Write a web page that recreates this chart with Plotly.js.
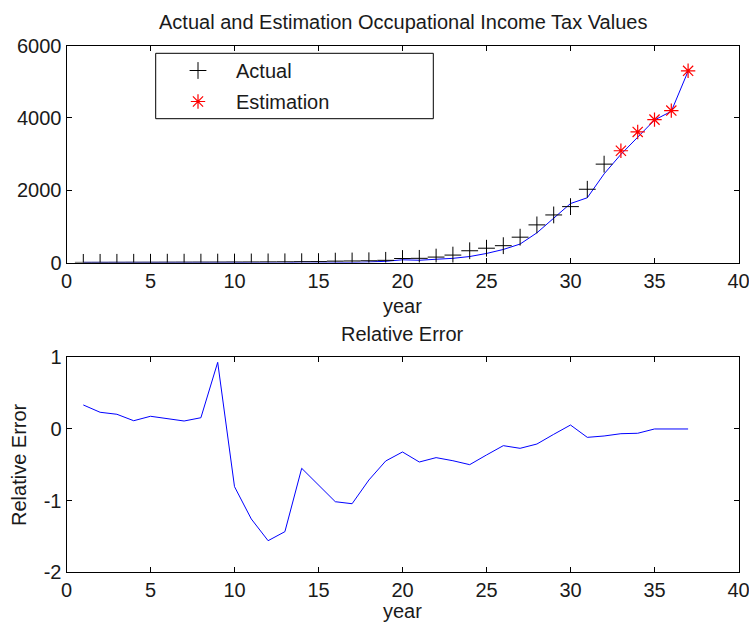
<!DOCTYPE html>
<html>
<head>
<meta charset="utf-8">
<script src="https://cdn.plot.ly/plotly-3.0.1.min.js"></script>
<style>html,body{margin:0;padding:0;background:#fff;}#chart{width:749px;height:624px;}</style>
</head>
<body>
<div id="chart"></div>
<script>
// ---- data ----
var years = [1,2,3,4,5,6,7,8,9,10,11,12,13,14,15,16,17,18,19,20,21,22,23,24,25,26,27,28,29,30,31,32,33,34,35,36,37];
var actualYears = [1,2,3,4,5,6,7,8,9,10,11,12,13,14,15,16,17,18,19,20,21,22,23,24,25,26,27,28,29,30,31,32];
var actualValues = [3,4,5,6,7,8,9,10,11,13,15,17,19,22,25,38,42,48,60,110,115,150,205,325,395,465,700,1040,1315,1545,2025,2720];
var fittedValues = [4,5,6,7,8,9,10,12,21,3,-4,-9,-8,10,5,-1,-2,14,33,75,62,90,115,165,250,360,510,820,1215,1630,1790,2450,2990,3480,3940,4180,5290];
var estYears = [33,34,35,36,37];
var estValues = [3090,3610,3950,4200,5300];
var relErrYears = [1,2,3,4,5,6,7,8,9,10,11,12,13,14,15,16,17,18,19,20,21,22,23,24,25,26,27,28,29,30,31,32,33,34,35,36,37];
var relErrValues = [0.335,0.233,0.205,0.115,0.177,0.143,0.111,0.157,0.93,-0.805,-1.256,-1.559,-1.433,-0.549,-0.78,-1.015,-1.043,-0.712,-0.447,-0.321,-0.461,-0.40,-0.443,-0.498,-0.363,-0.233,-0.27,-0.21,-0.075,0.055,-0.117,-0.098,-0.066,-0.06,0.0,0.0,0.0];
var topTicks = [0,2000,4000,6000];
var topTickText = ['0','2000','4000','6000'];
var bottomTicks = [-2,-1,0,1];
var bottomTickText = ['-2','-1','0','1'];
var xTicks = [0,5,10,15,20,25,30,35,40];
var xTickText = ['0','5','10','15','20','25','30','35','40'];

var W = 749, H = 624;
function px(x){return x/W;}
function py(y){return 1-y/H;}
var FONT = 'Arial, "Liberation Sans", sans-serif';
var TXT = '#1a1a1a';

var traces = [
  {x: years, y: fittedValues, type:'scatter', mode:'lines', line:{color:'#0000ff', width:1}, showlegend:false, xaxis:'x', yaxis:'y'},
  {x: actualYears, y: actualValues, type:'scatter', mode:'markers', name:'Actual', legendgroup:'a',
   marker:{symbol:'cross-thin-open', size:12, color:'#000', line:{color:'#000', width:1}}, xaxis:'x', yaxis:'y'},
  {x: estYears, y: estValues, type:'scatter', mode:'markers', name:'Estimation', legendgroup:'b',
   marker:{symbol:'asterisk-open', size:12, color:'#ff0000', line:{color:'#ff0000', width:1.2}}, xaxis:'x', yaxis:'y'},
  {x: relErrYears, y: relErrValues, type:'scatter', mode:'lines', line:{color:'#0000ff', width:1}, showlegend:false, xaxis:'x2', yaxis:'y2'}
];

var axisCommon = {
  showline:true, linecolor:'#000', linewidth:1, mirror:'ticks', ticks:'inside', ticklen:5, tickcolor:'#000',
  showgrid:false, zeroline:false, tickfont:{family:FONT, size:20, color:TXT}, fixedrange:true,
  ticklabeloverflow:'allow', tickmode:'array'
};
function ax(extra){var o={};for(var k in axisCommon)o[k]=axisCommon[k];for(var k2 in extra)o[k2]=extra[k2];return o;}

var xd = [px(66.5), px(738.5)];
var layout = {
  width:W, height:H, margin:{l:0,r:0,t:0,b:0}, paper_bgcolor:'#fff', plot_bgcolor:'#fff',
  font:{family:FONT, size:20, color:TXT},
  xaxis: ax({domain:xd, range:[0,40], tickvals:xTicks, ticktext:xTickText, anchor:'y'}),
  yaxis: ax({domain:[py(262.5), py(45.5)], range:[0,6000], tickvals:topTicks, ticktext:topTickText, anchor:'x'}),
  xaxis2: ax({domain:xd, range:[0,40], tickvals:xTicks, ticktext:xTickText, anchor:'y2'}),
  yaxis2: ax({domain:[py(572.3), py(357.3)], range:[-2,1], tickvals:bottomTicks, ticktext:bottomTickText, anchor:'x2'}),
  showlegend:true,
  legend:{x:px(160), y:py(51), xanchor:'left', yanchor:'top', bgcolor:'rgba(0,0,0,0)', borderwidth:0,
          font:{family:FONT, size:20, color:TXT}, itemwidth:66, tracegroupgap:2},
  shapes:[{type:'rect', xref:'paper', yref:'paper', x0:px(155.7), x1:px(433.3), y0:py(118.7), y1:py(53.3),
           line:{color:'#000', width:1}, fillcolor:'rgba(0,0,0,0)', layer:'above'}],
  annotations:[
    {text:'Actual and Estimation Occupational Income Tax Values', xref:'paper', yref:'paper', x:px(402.5), y:py(22), xanchor:'center', yanchor:'middle', showarrow:false, font:{family:FONT,size:20,color:TXT}},
    {text:'year', xref:'paper', yref:'paper', x:px(402.5), y:py(306), xanchor:'center', yanchor:'middle', showarrow:false, font:{family:FONT,size:20,color:TXT}},
    {text:'Relative Error', xref:'paper', yref:'paper', x:px(402.5), y:py(334), xanchor:'center', yanchor:'middle', showarrow:false, font:{family:FONT,size:20,color:TXT}},
    {text:'year', xref:'paper', yref:'paper', x:px(402.5), y:py(611), xanchor:'center', yanchor:'middle', showarrow:false, font:{family:FONT,size:20,color:TXT}},
    {text:'Relative Error', xref:'paper', yref:'paper', x:px(19), y:py(465), xanchor:'center', yanchor:'middle', textangle:-90, showarrow:false, font:{family:FONT,size:20,color:TXT}}
  ]
};

Plotly.newPlot('chart', traces, layout, {displayModeBar:false, staticPlot:true});
</script>
</body>
</html>
